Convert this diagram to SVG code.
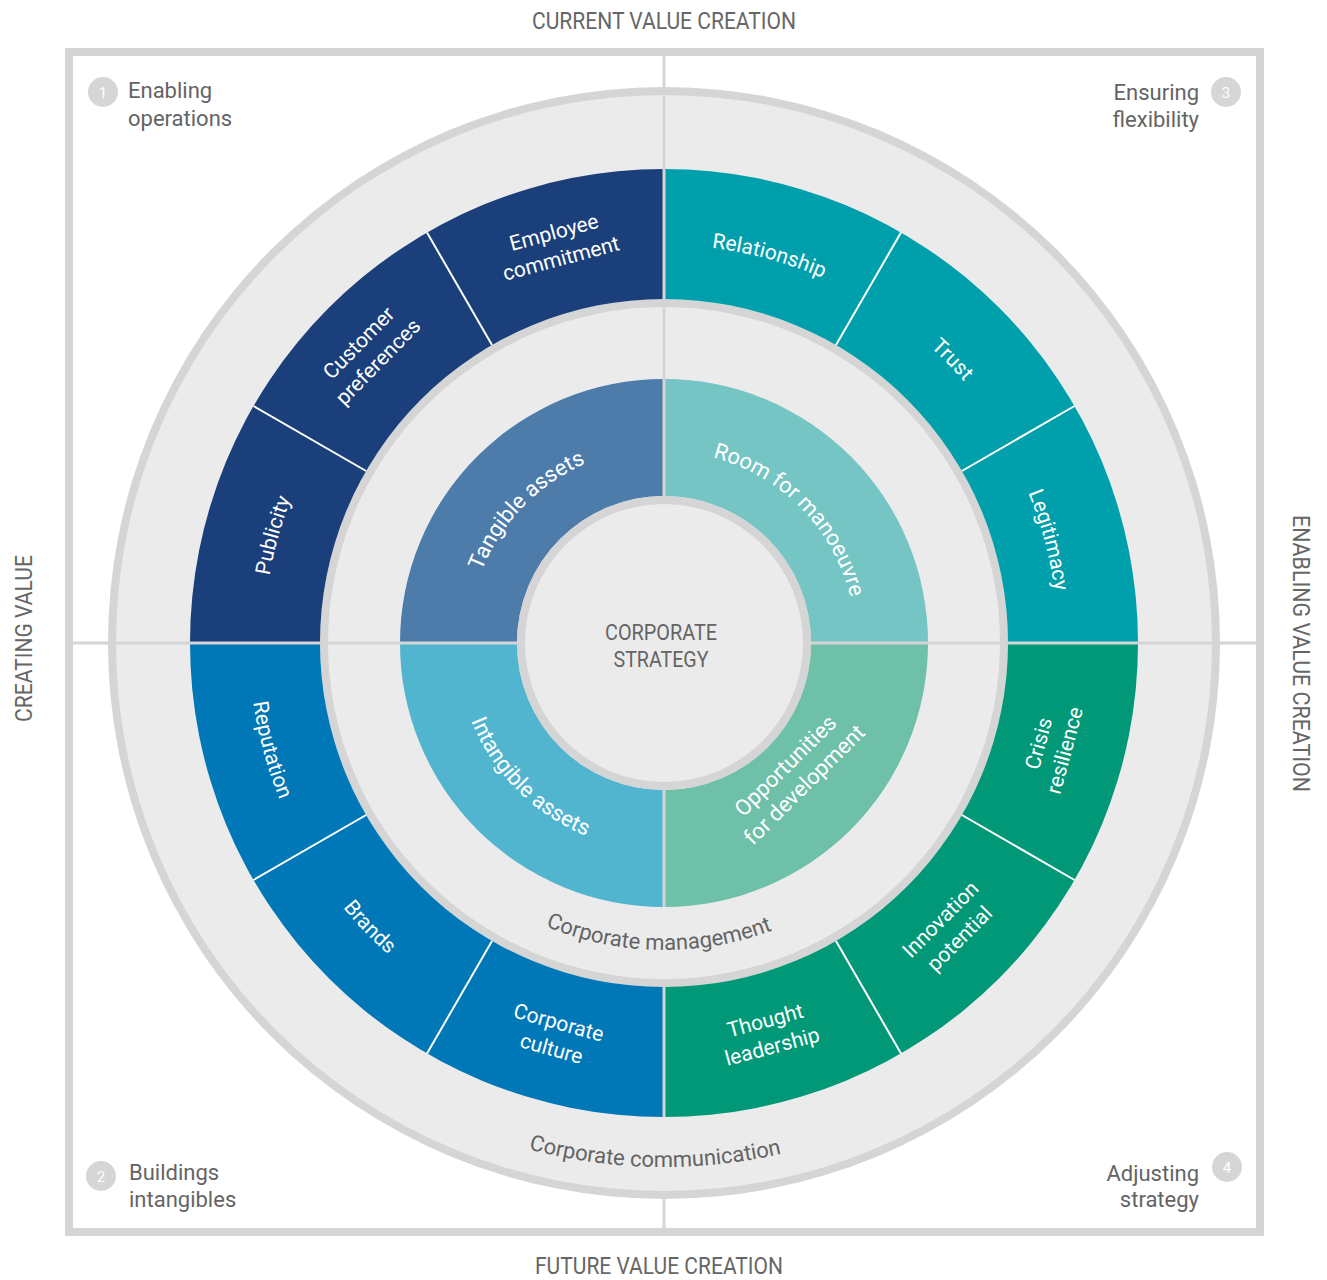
<svg xmlns="http://www.w3.org/2000/svg" xmlns:xlink="http://www.w3.org/1999/xlink" width="1327" height="1280" viewBox="0 0 1327 1280">
<style>
text{font-family:Roboto,"Liberation Sans","DejaVu Sans",sans-serif}
.w{fill:#ffffff;font-size:21px}
.wi{fill:#ffffff;font-size:22px}
.g{fill:#646464;font-size:22px}
.ax{fill:#666666;font-size:24px}
.num{fill:#ffffff;font-size:15px;text-anchor:middle}
.c{text-anchor:middle}
.sep{stroke:#ffffff;stroke-width:2}
.axis{stroke:#d5d5d5;stroke-width:3;fill:none}
.nc{fill:#d6d6d6}
</style>
<defs>
<path id="pRel" d="M436.9,316.2 A398,398 0 0 1 1025.3,476.0"/>
<path id="pTrust" d="M632.8,246.2 A398,398 0 0 1 1060.2,681.1"/>
<path id="pLeg" d="M830.5,285.9 A394,394 0 0 1 986.8,869.0"/>
<path id="pPub" d="M334.6,870.1 A400,400 0 0 1 497.5,279.3"/>
<path id="pRep" d="M323.2,406.2 A415,415 0 0 0 489.9,1019.7"/>
<path id="pBrands" d="M250.3,599.5 A416,416 0 0 0 693.0,1058.0"/>
<path id="pTang" d="M469.1,663.5 A196,196 0 0 1 677.7,447.5"/>
<path id="pRoom" d="M648.9,451.6 A192,192 0 0 1 855.1,661.4"/>
<path id="pIntang" d="M456.8,624.9 A208,208 0 0 0 682.1,850.2"/>
<path id="pMgmt" d="M425.4,836.2 A307,307 0 0 0 895.7,844.4"/>
<path id="pComm" d="M256.8,972.8 A524,524 0 0 0 1059.5,986.8"/>
</defs>
<rect width="1327" height="1280" fill="#ffffff"/>
<g id="frame">
<rect x="69" y="52" width="1191" height="1180" fill="none" stroke="#d5d5d5" stroke-width="8"/>
</g>
<g id="outer-ring">
<circle cx="664" cy="643" r="556" fill="#d5d5d5"/>
<circle cx="664" cy="643" r="548" fill="#ebebeb"/>
</g>
<g id="management-ring">
<circle cx="664" cy="643" r="344" fill="#d5d5d5"/>
<circle cx="664" cy="643" r="336" fill="#ebebeb"/>
</g>
<g id="outer-quadrants">
<path d="M664,169 A474,474 0 0 1 1138,643 L1008,643 A344,344 0 0 0 664,299 Z" fill="#009fac"/>
<path d="M1138,643 A474,474 0 0 1 664,1117 L664,987 A344,344 0 0 0 1008,643 Z" fill="#009877"/>
<path d="M664,1117 A474,474 0 0 1 190,643 L320,643 A344,344 0 0 0 664,987 Z" fill="#0077b6"/>
<path d="M190,643 A474,474 0 0 1 664,169 L664,299 A344,344 0 0 0 320,643 Z" fill="#1b3f7a"/>
</g>
<g id="separators">
<line class="sep" x1="836" y1="345.1" x2="901" y2="232.5"/>
<line class="sep" x1="961.9" y1="471" x2="1074.5" y2="406"/>
<line class="sep" x1="961.9" y1="815" x2="1074.5" y2="880"/>
<line class="sep" x1="836" y1="940.9" x2="901" y2="1053.5"/>
<line class="sep" x1="492" y1="940.9" x2="427" y2="1053.5"/>
<line class="sep" x1="366.1" y1="815" x2="253.5" y2="880"/>
<line class="sep" x1="366.1" y1="471" x2="253.5" y2="406"/>
<line class="sep" x1="492" y1="345.1" x2="427" y2="232.5"/>
</g>
<g id="inner-quadrants">
<path d="M664,379 A264,264 0 0 1 928,643 L811,643 A147,147 0 0 0 664,496 Z" fill="#74c5c3"/>
<path d="M928,643 A264,264 0 0 1 664,907 L664,790 A147,147 0 0 0 811,643 Z" fill="#6fc0a8"/>
<path d="M664,907 A264,264 0 0 1 400,643 L517,643 A147,147 0 0 0 664,790 Z" fill="#52b5cf"/>
<path d="M400,643 A264,264 0 0 1 664,379 L664,496 A147,147 0 0 0 517,643 Z" fill="#4d7cab"/>
</g>
<g id="connectors">
<path class="axis" d="M73,643 H1256"/>
<path class="axis" d="M664,56 V643"/>
<path class="axis" d="M664,643 V907"/>
<path class="axis" d="M664,987 V1117"/>
<path class="axis" d="M664,1199 V1228"/>
</g>
<g id="center">
<circle cx="664" cy="643" r="147" fill="#d5d5d5"/>
<circle cx="664" cy="643" r="139" fill="#ebebeb"/>
<text class="g c" x="661" y="640" textLength="112" lengthAdjust="spacingAndGlyphs">CORPORATE</text>
<text class="g c" x="661" y="667" textLength="95" lengthAdjust="spacingAndGlyphs">STRATEGY</text>
</g>
<g id="seg-employee-commitment" transform="translate(557.4,245) rotate(-15)">
<text class="w c" x="0" y="-6">Employee</text>
<text class="w c" x="0" y="21">commitment</text>
</g>
<g id="seg-customer-preferences" transform="translate(368,352.1) rotate(-45.5)">
<text class="w c" x="0" y="-6">Customer</text>
<text class="w c" x="0" y="21">preferences</text>
</g>
<g id="seg-publicity"><text class="w c"><textPath xlink:href="#pPub" startOffset="50%">Publicity</textPath></text></g>
<g id="seg-relationship"><text class="w c"><textPath xlink:href="#pRel" startOffset="50%">Relationship</textPath></text></g>
<g id="seg-trust"><text class="w c"><textPath xlink:href="#pTrust" startOffset="50%">Trust</textPath></text></g>
<g id="seg-legitimacy"><text class="w c"><textPath xlink:href="#pLeg" startOffset="50%">Legitimacy</textPath></text></g>
<g id="seg-crisis-resilience" transform="translate(1051.3,746.8) rotate(-75)">
<text class="w c" x="0" y="-6">Crisis</text>
<text class="w c" x="0" y="21">resilience</text>
</g>
<g id="seg-innovation-potential" transform="translate(949.7,928.7) rotate(-45)">
<text class="w c" x="0" y="-6">Innovation</text>
<text class="w c" x="0" y="21">potential</text>
</g>
<g id="seg-thought-leadership" transform="translate(768.6,1033.2) rotate(-15)">
<text class="w c" x="0" y="-6">Thought</text>
<text class="w c" x="0" y="21">leadership</text>
</g>
<g id="seg-corporate-culture" transform="translate(555.2,1035.2) rotate(15.5)">
<text class="w c" x="0" y="-6">Corporate</text>
<text class="w c" x="0" y="21">culture</text>
</g>
<g id="seg-brands"><text class="w c"><textPath xlink:href="#pBrands" startOffset="50%">Brands</textPath></text></g>
<g id="seg-reputation"><text class="w c"><textPath xlink:href="#pRep" startOffset="50%">Reputation</textPath></text></g>
<g id="inner-tangible"><text class="wi c"><textPath xlink:href="#pTang" startOffset="50%">Tangible assets</textPath></text></g>
<g id="inner-room"><text class="wi c"><textPath xlink:href="#pRoom" startOffset="50%">Room for manoeuvre</textPath></text></g>
<g id="inner-intangible"><text class="wi c"><textPath xlink:href="#pIntang" startOffset="50%">Intangible assets</textPath></text></g>
<g id="inner-opportunities" transform="translate(794.8,775.2) rotate(-44.7)">
<text class="wi c" x="0" y="-6">Opportunities</text>
<text class="wi c" x="0" y="21">for development</text>
</g>
<g id="ring-management"><text class="g c"><textPath xlink:href="#pMgmt" startOffset="50%">Corporate management</textPath></text></g>
<g id="ring-communication"><text class="g c"><textPath xlink:href="#pComm" startOffset="50%">Corporate communication</textPath></text></g>
<g id="axis-labels">
<text class="ax c" x="664" y="29" textLength="264" lengthAdjust="spacingAndGlyphs">CURRENT VALUE CREATION</text>
<text class="ax c" x="659" y="1274" textLength="248" lengthAdjust="spacingAndGlyphs">FUTURE VALUE CREATION</text>
<text class="ax c" transform="translate(32,638.5) rotate(-90)" x="0" y="0" textLength="167" lengthAdjust="spacingAndGlyphs">CREATING VALUE</text>
<text class="ax c" transform="translate(1293,653.5) rotate(90)" x="0" y="0" textLength="277" lengthAdjust="spacingAndGlyphs">ENABLING VALUE CREATION</text>
</g>
<g id="corner-1">
<circle class="nc" cx="103" cy="92" r="15"/>
<text class="num" x="103" y="97.5">1</text>
<text class="g" x="128" y="98">Enabling</text>
<text class="g" x="128" y="126">operations</text>
</g>
<g id="corner-3">
<circle class="nc" cx="1226" cy="92" r="15"/>
<text class="num" x="1226" y="97.5">3</text>
<text class="g" x="1199" y="100" text-anchor="end">Ensuring</text>
<text class="g" x="1199" y="127" text-anchor="end">flexibility</text>
</g>
<g id="corner-2">
<circle class="nc" cx="101" cy="1176" r="15"/>
<text class="num" x="101" y="1181.5">2</text>
<text class="g" x="129" y="1180">Buildings</text>
<text class="g" x="129" y="1207">intangibles</text>
</g>
<g id="corner-4">
<circle class="nc" cx="1227" cy="1167" r="15"/>
<text class="num" x="1227" y="1172.5">4</text>
<text class="g" x="1199" y="1181" text-anchor="end">Adjusting</text>
<text class="g" x="1199" y="1207" text-anchor="end">strategy</text>
</g>
</svg>
